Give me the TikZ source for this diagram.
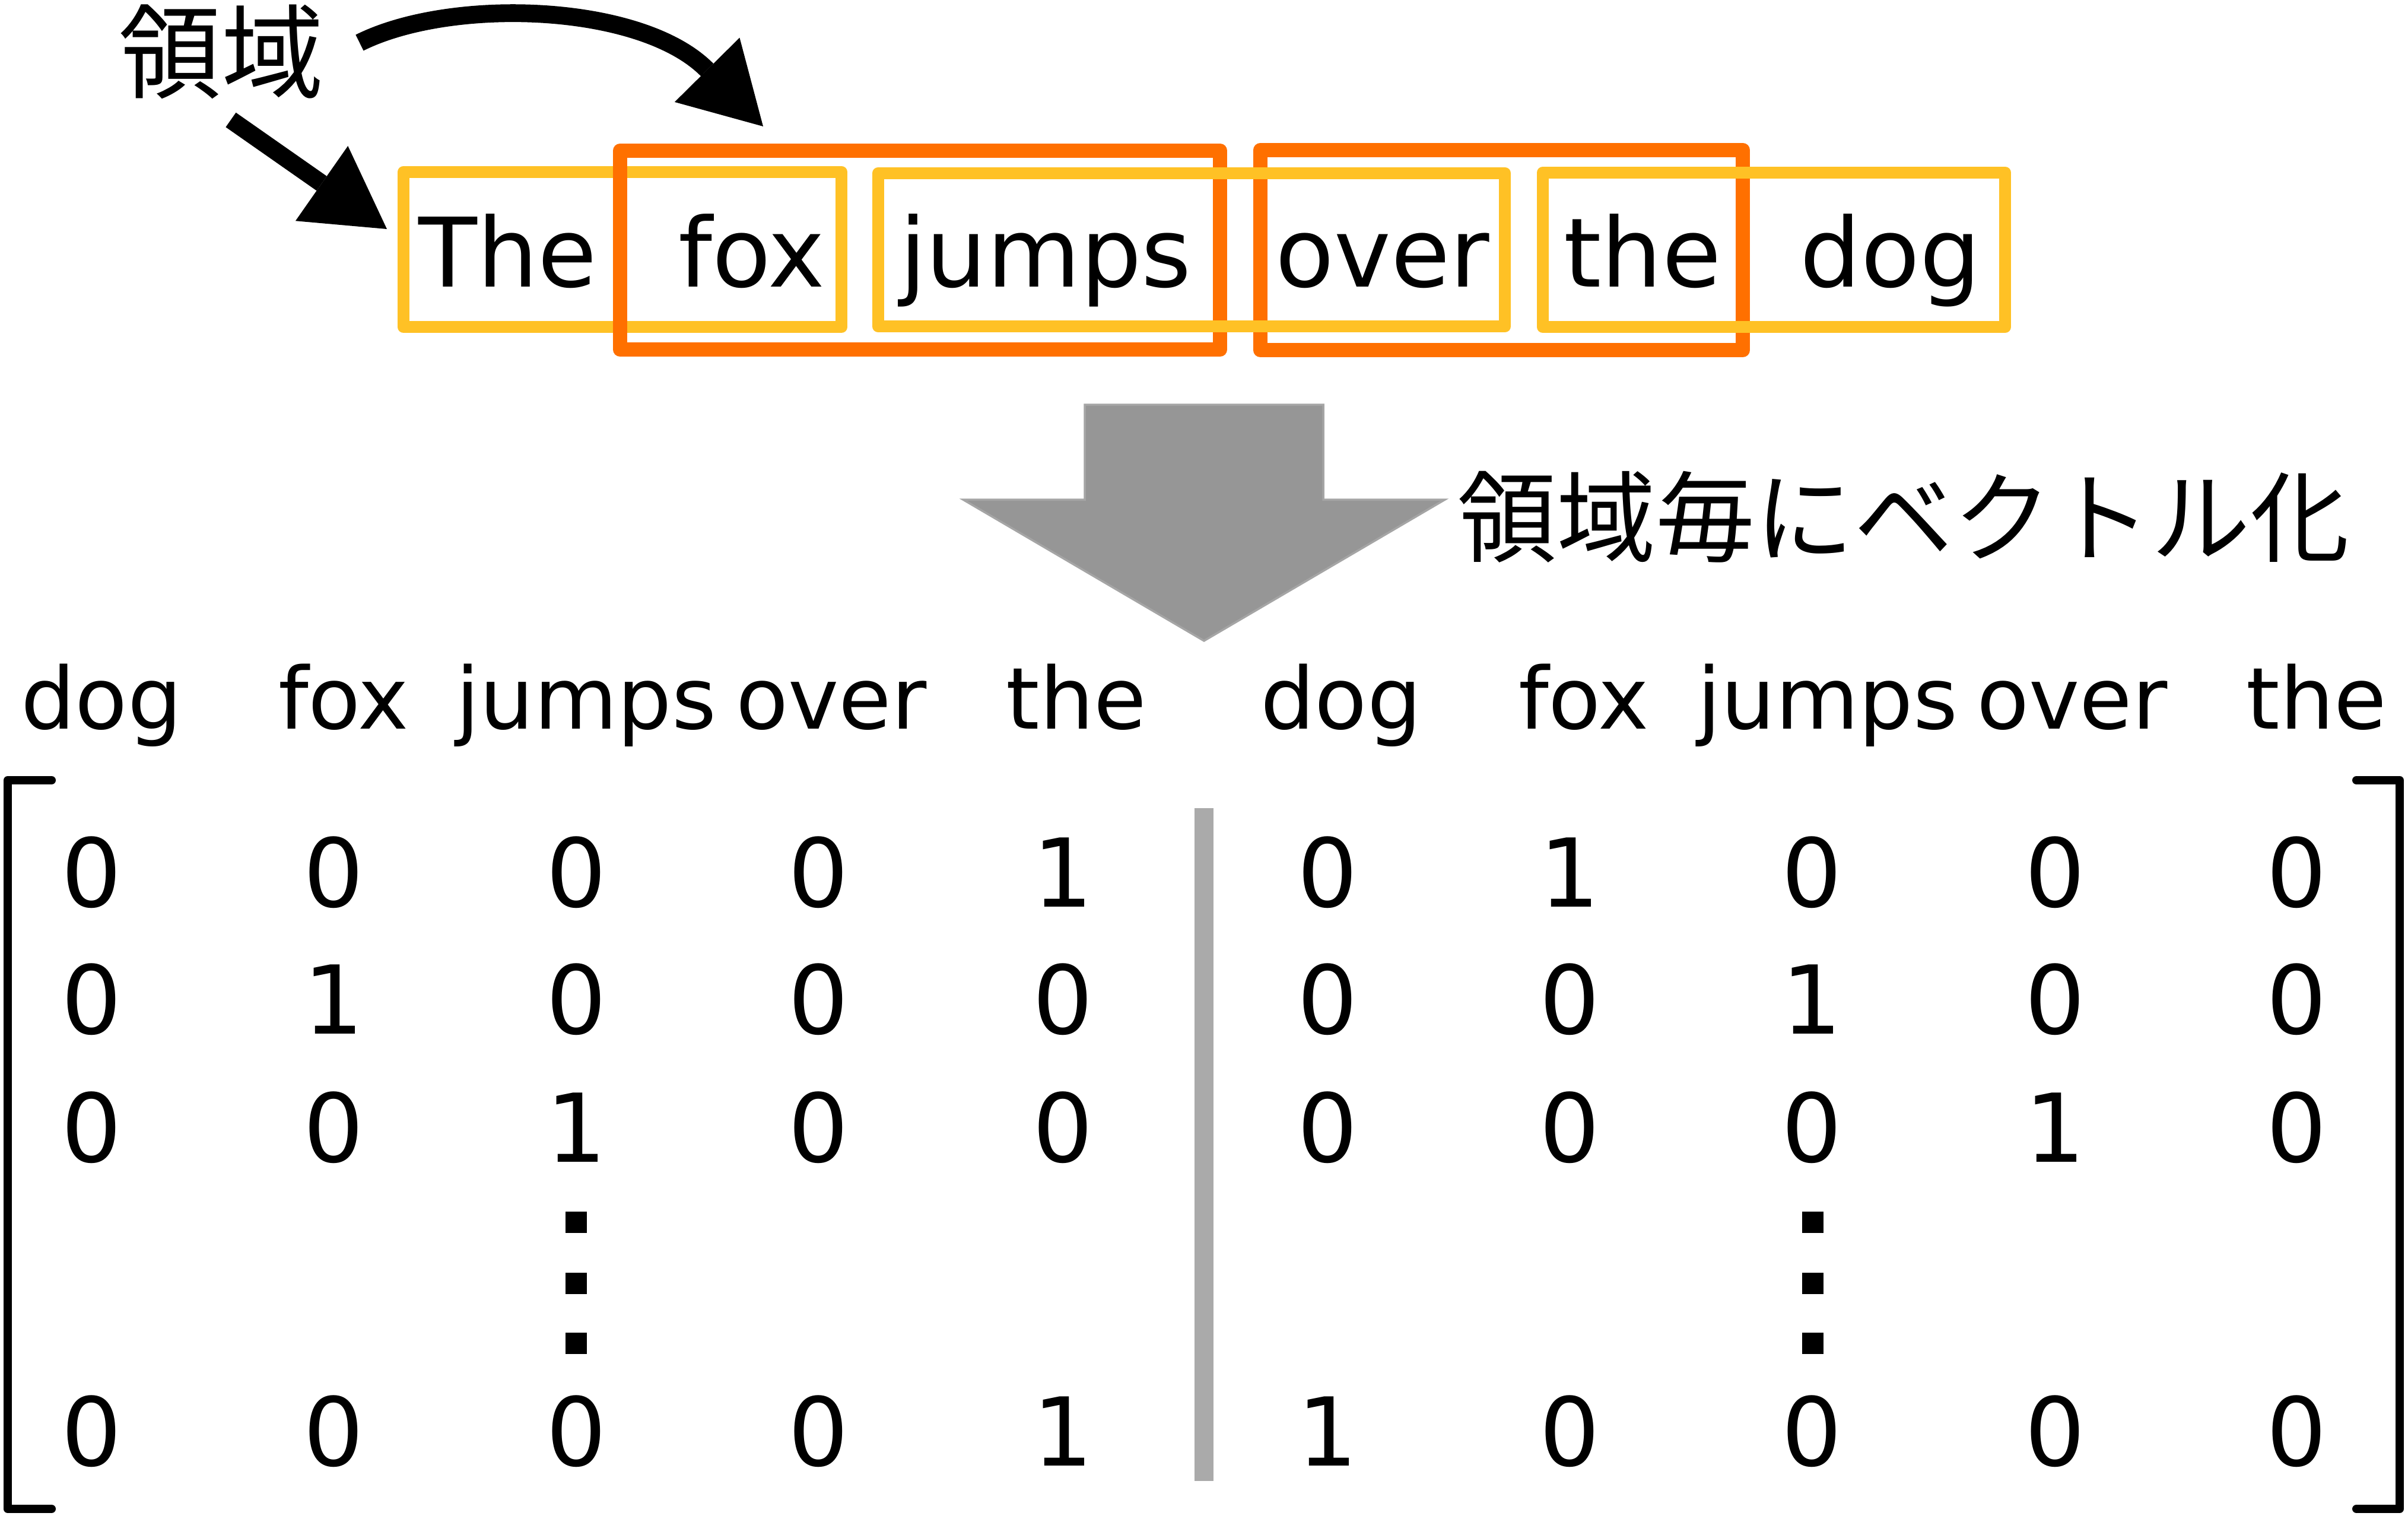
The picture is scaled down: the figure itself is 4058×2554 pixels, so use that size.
\documentclass[tikz,border=0pt]{standalone}
\usepackage{fontspec}
\setmainfont{DejaVu Sans}
\newfontfamily\jpfont{Noto Sans CJK JP}
\usepackage{tikz}
\usetikzlibrary{arrows.meta,positioning}
\usepackage{xcolor}
\definecolor{rgyellow}{RGB}{255,193,37}
\definecolor{rgorange}{RGB}{255,112,0}
\definecolor{rggray}{RGB}{150,150,150}
\definecolor{rgedge}{RGB}{165,165,165}
\definecolor{rgbar}{RGB}{170,170,170}
\tikzstyle{arrow} = [line width=8.5pt,-{Triangle[length=1.34cm,width=1.54cm,line width=0pt]},color=black]

\begin{document}
\begin{tikzpicture}[
    x=0.01cm, y=-0.01cm,
    every node/.style={inner sep=0pt, outer sep=0pt},
    word/.style={font=\fontsize{46pt}{55pt}\selectfont, anchor=base},
    head/.style={font=\fontsize{41pt}{49pt}\selectfont, anchor=base},
    num/.style={font=\fontsize{45.5pt}{55pt}\selectfont, anchor=base},
    jp/.style={font=\fontsize{49pt}{59pt}\selectfont\jpfont, anchor=base},
    ybox/.style={rectangle, draw=rgyellow, line width=5.7pt, line join=round},
    obox/.style={rectangle, draw=rgorange, line width=6.8pt, line join=round},
    bracket/.style={line width=4pt, line cap=round, line join=round},
    vdot/.style={rectangle, fill=black, minimum size=0.36cm}
]
\useasboundingbox (0,0) rectangle (4058,2554);

% Region boxes
\node[ybox, minimum width=7.38cm, minimum height=2.61cm] (y1) at (1049,420.5) {};
\node[obox, minimum width=10.11cm, minimum height=3.35cm] (o1) at (1550.5,421.5) {};
\node[obox, minimum width=8.13cm, minimum height=3.37cm] (o2) at (2530.5,421.5) {};
\node[ybox, minimum width=10.56cm, minimum height=2.58cm] (y2) at (2008,421) {};
\node[ybox, minimum width=7.79cm, minimum height=2.60cm] (y3) at (2989.5,421) {};

% Sentence
\node[word] (w-the) at (856,483) {The};
\node[word] (w-fox) at (1267,483) {fox};
\node[word] (w-jumps) at (1762,483) {jumps};
\node[word] (w-over) at (2330,483) {over};
\node[word] (w-the2) at (2768,483) {the};
\node[word] (w-dog) at (3186,483) {dog};

% Region label and arrows
\node[jp] (region) at (373,152) {領域};
\coordinate (a1s) at (389,202);
\coordinate (a1e) at (652,386);
\coordinate (a2s) at (606,72);
\coordinate (a2e) at (1286,213);
\draw[arrow] (a1s) -- (a1e);
\draw[arrow] (a2s) .. controls (760,-5) and (1080,5) .. (a2e);

% Big arrow
\draw[draw=rgedge, line width=1pt, fill=rggray] (1828,682) -- (2230,682) -- (2230,842) -- (2435,842)
    -- (2029,1080) -- (1623,842) -- (1828,842) -- cycle;
\node[jp, font=\fontsize{47.5pt}{57pt}\selectfont\jpfont] (vec) at (3208,934) {領域毎にベクトル化};

% Vocabulary headers
\foreach \w/\x [count=\i] in {dog/171, fox/579, jumps/988, over/1401, the/1814,
    dog/2260, fox/2669, jumps/3080, over/3492, the/3904}
    \node[head] (h\i) at (\x,1228) {\w};

% Matrix entries
\foreach \vals [count=\r] in {{0,0,0,0,1,0,1,0,0,0},{0,1,0,0,0,0,0,1,0,0},
    {0,0,1,0,0,0,0,0,1,0},{0,0,0,0,1,1,0,0,0,0}} {
    \pgfmathsetmacro\ry{{1528,1742,1958,2470}[\r-1]}
    \foreach \v [count=\c] in \vals {
        \pgfmathsetmacro\cx{{154,562,971,1379,1791,2237,2645,3053,3463,3870}[\c-1]}
        \node[num] (m-\r-\c) at (\cx,\ry) {\v};
    }
}

% Vertical dots
\foreach \x [count=\i] in {971,3055}
    \foreach \y [count=\j] in {2060,2163,2264}
        \node[vdot] (d-\i-\j) at (\x,\y) {};

% Separator and brackets
\coordinate (sep-top) at (2029,1362);
\coordinate (sep-bot) at (2029,2496);
\draw[line width=9.1pt, rgbar] (sep-top) -- (sep-bot);
\draw[bracket] (87,1315) -- (13,1315) -- (13,2543) -- (87,2543);
\draw[bracket] (3971,1315) -- (4044,1315) -- (4044,2543) -- (3971,2543);

\end{tikzpicture}
\end{document}
